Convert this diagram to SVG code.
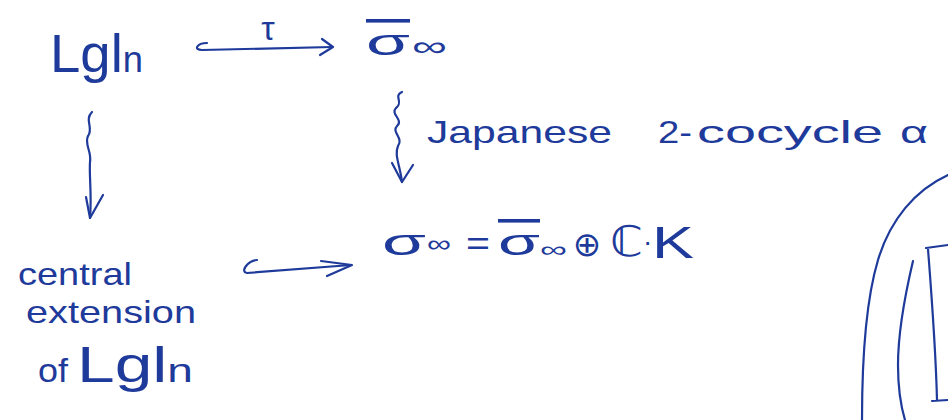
<svg xmlns="http://www.w3.org/2000/svg" width="948" height="420" viewBox="0 0 948 420">
<style>
text{font-family:"Liberation Sans","DejaVu Sans",sans-serif;fill:#1e3a9a}
.ink{fill:none;stroke:#1e3a9a;stroke-width:2.2;stroke-linecap:round;stroke-linejoin:round}
</style>
<rect width="948" height="420" fill="#ffffff"/>
<g id="node-lgln">
<text x="50" y="72" font-size="54" textLength="93" lengthAdjust="spacingAndGlyphs">Lgl<tspan font-size="36">n</tspan></text>
</g>
<g id="node-sigma-bar">
<text x="366" y="55" font-size="36" textLength="44" lengthAdjust="spacingAndGlyphs" text-decoration="overline">σ</text>
<text x="412" y="56" font-size="28" textLength="35" lengthAdjust="spacingAndGlyphs">∞</text>
</g>
<g id="node-central-extension">
<text x="18" y="285" font-size="32" textLength="114" lengthAdjust="spacingAndGlyphs">central</text>
<text x="26" y="323" font-size="32" textLength="170" lengthAdjust="spacingAndGlyphs">extension</text>
<text x="38" y="382" font-size="34" textLength="30" lengthAdjust="spacingAndGlyphs">of</text>
<text x="77" y="382" font-size="50" textLength="116" lengthAdjust="spacingAndGlyphs">Lgl<tspan font-size="34">n</tspan></text>
</g>
<g id="node-sigma">
<text x="382" y="255" font-size="36" textLength="44" lengthAdjust="spacingAndGlyphs">σ</text>
<text x="427" y="252" font-size="24" textLength="24" lengthAdjust="spacingAndGlyphs">∞</text>
<text x="466" y="255" font-size="34" textLength="24" lengthAdjust="spacingAndGlyphs">=</text>
<text x="498" y="255" font-size="36" textLength="42" lengthAdjust="spacingAndGlyphs" text-decoration="overline">σ</text>
<text x="540" y="257" font-size="22" textLength="27" lengthAdjust="spacingAndGlyphs">∞</text>
<text x="587" y="256" font-size="34" text-anchor="middle">⊕</text>
<text x="610" y="256" font-size="42" textLength="33" lengthAdjust="spacingAndGlyphs">ℂ</text>
<text x="643" y="251" font-size="28">·</text>
<text x="652" y="258" font-size="44" textLength="42" lengthAdjust="spacingAndGlyphs">K</text>
</g>
<g id="connectors">
<path class="ink" d="M207 43 C197 43 193 50 202 50 L332 47"/>
<path class="ink" d="M322 39 L333 47 L320 55"/>
<text x="268" y="40" font-size="34" text-anchor="middle">τ</text>
<path class="ink" d="M257 260 C247 261 240 272 247 273 L351 265"/>
<path class="ink" d="M321 261 L352 265 L327 276"/>
<path class="ink" d="M92 112 C84 120 94 128 88 136 C84 144 92 152 90 162 C89 175 92 195 90 218"/>
<path class="ink" d="M86 197 L90 218 L103 195"/>
<path class="ink" d="M402 92 C393 96 404 102 396 108 C390 114 404 120 397 126 C391 132 404 138 398 146 C394 155 400 165 402 182"/>
<path class="ink" d="M392 163 L402 182 L413 165"/>
<text x="427" y="143" font-size="32" textLength="185" lengthAdjust="spacingAndGlyphs">Japanese</text>
<text x="658" y="143" font-size="32" textLength="34" lengthAdjust="spacingAndGlyphs">2-</text>
<text x="697" y="143" font-size="32" textLength="186" lengthAdjust="spacingAndGlyphs">cocycle</text>
<text x="900" y="143" font-size="32" textLength="28" lengthAdjust="spacingAndGlyphs">α</text>
</g>
<g id="partial-figure">
<path class="ink" d="M948 175 C915 190 890 220 878 260 C866 300 862 360 862 420"/>
<path class="ink" d="M913 261 C905 295 898 330 898 365 C898 390 902 410 905 420"/>
<path class="ink" d="M948 245 L926 248 M928 249 C932 300 936 360 937 400 M932 401 L948 400"/>
</g>
</svg>
